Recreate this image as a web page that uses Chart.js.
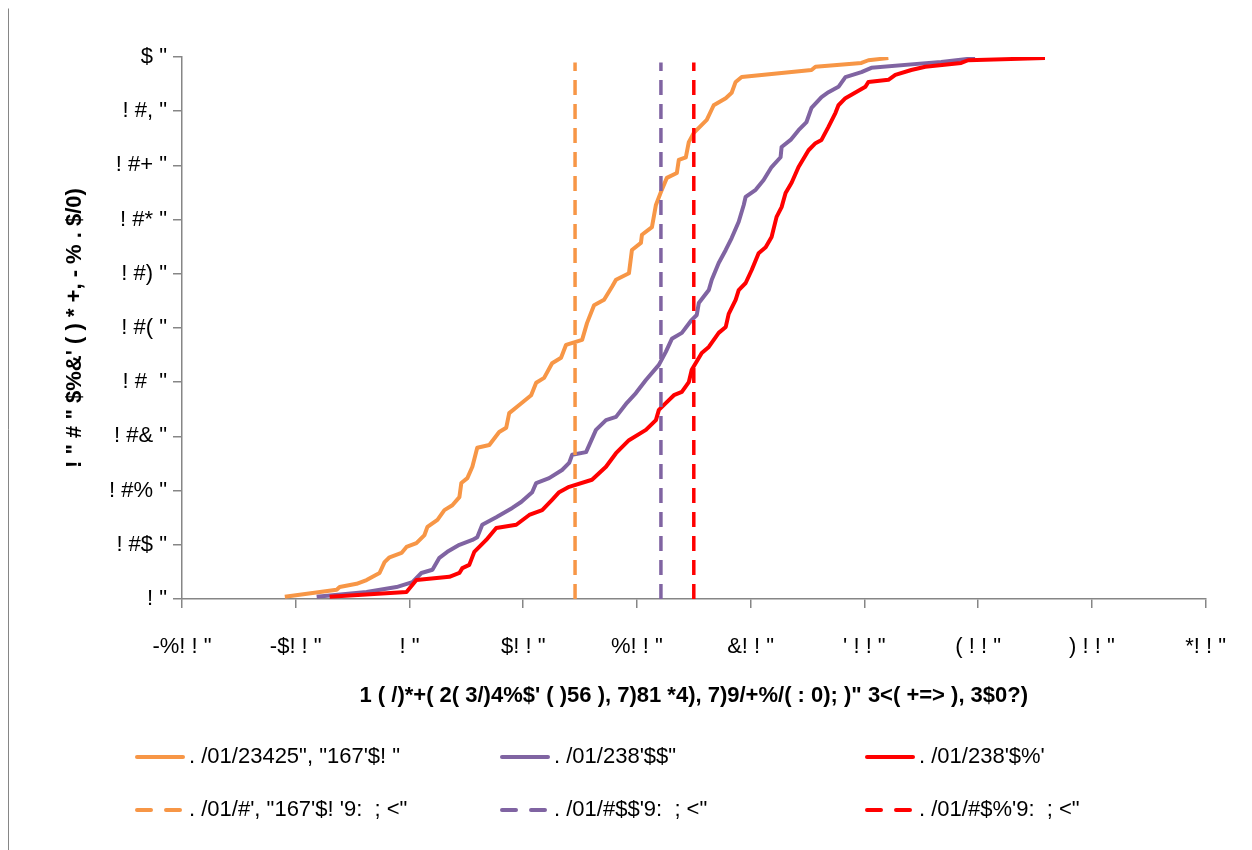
<!DOCTYPE html>
<html>
<head>
<meta charset="utf-8">
<script src="https://cdn.jsdelivr.net/npm/chart.js@4.4.1/dist/chart.umd.min.js"></script>
<style>
  html, body { margin: 0; padding: 0; background: #ffffff; }
  #wrap { position: absolute; left: 0; top: 0; width: 1252px; height: 850px; }
</style>
</head>
<body>
<div id="wrap"><canvas id="c" width="1252" height="850"></canvas></div>
<script>
// ---- tick labels (as shown) ----
const xTickLabels = ["-%! ! \"", "-$! ! \"", "! \"", "$! ! \"", "%! ! \"", "&! ! \"", "' ! ! \"", "( ! ! \"", ") ! ! \"", "*! ! \""];
const yTickLabels = ["! \"", "! #$ \"", "! #% \"", "! #& \"", "! #  \"", "! #( \"", "! #) \"", "! #* \"", "! #+ \"", "! #, \"", "$ \""];
const xTitle = "1 ( /)*+( 2( 3/)4%$' ( )56 ), 7)81 *4), 7)9/+%/( : 0); )\" 3<( +=> ), 3$0?)";
const yTitle = "! \" # \" $%&' ( ) * +, - % . $/0)";

// ---- series labels ----
const seriesLabels = [
  ". /01/23425\", \"167'$! \"",
  ". /01/238'$$\"",
  ". /01/238'$%'",
  ". /01/#', \"167'$! '9:  ; <\"",
  ". /01/#$$'9:  ; <\"",
  ". /01/#$%'9:  ; <\""
];

// ---- orange curve ----
const orangeX = [-109.6,-64.0,-61.4,-46.5,-37.7,-26.3,-21.9,-17.5,-7.0,-2.6,6.1,13.2,15.8,24.6,30.7,37.7,43.9,45.6,50.9,55.3,59.6,70.2,78.9,85.1,87.7,96.5,107.0,111.4,118.4,125.4,133.3,137.7,151.8,156.1,162.3,171.1,178.1,181.6,193.0,195.6,203.5,204.4,213.2,216.7,221.1,226.3,235.1,236.8,243.0,245.6,250.0,261.4,267.5,278.1,283.3,286.8,292.1,353.5,357.0,397.4,403.5,421.1];
const orangeY = [0.004,0.017,0.022,0.028,0.035,0.048,0.068,0.077,0.085,0.096,0.103,0.118,0.133,0.146,0.164,0.173,0.188,0.214,0.223,0.244,0.279,0.284,0.308,0.316,0.343,0.358,0.376,0.399,0.408,0.435,0.445,0.469,0.478,0.509,0.542,0.552,0.576,0.589,0.601,0.644,0.657,0.672,0.686,0.727,0.751,0.777,0.786,0.810,0.815,0.843,0.860,0.884,0.911,0.924,0.934,0.954,0.963,0.976,0.982,0.989,0.994,0.998];

// ---- purple curve ----
const purpleX = [-81.6,-37.7,-11.4,2.6,10.5,20.2,26.3,33.3,43.9,55.3,59.6,64.0,76.3,90.4,98.2,107.9,111.4,122.8,134.2,140.4,143.0,155.3,164.0,172.8,181.6,191.2,199.1,207.9,219.3,225.4,230.7,239.5,247.4,252.6,254.4,263.2,265.8,271.9,278.1,283.3,289.5,293.9,295.6,304.4,311.4,318.4,326.3,327.2,335.1,342.1,349.1,353.5,362.3,368.4,377.2,383.3,397.4,406.1,467.5,497.4];
const purpleY = [0.004,0.013,0.022,0.031,0.048,0.054,0.076,0.087,0.100,0.109,0.114,0.137,0.151,0.168,0.179,0.197,0.214,0.223,0.238,0.251,0.266,0.271,0.312,0.330,0.336,0.362,0.380,0.404,0.432,0.456,0.480,0.491,0.513,0.524,0.546,0.570,0.589,0.620,0.644,0.666,0.696,0.727,0.742,0.755,0.773,0.797,0.815,0.834,0.847,0.865,0.880,0.906,0.926,0.935,0.945,0.963,0.972,0.980,0.991,0.998];

// ---- red curve ----
const redX = [-70.2,-2.6,6.1,35.1,43.9,46.5,52.6,57.0,67.5,76.3,93.9,105.3,116.7,125.4,131.6,140.4,160.5,172.8,181.6,193.0,207.9,216.7,219.3,228.1,232.5,239.5,245.6,248.2,257.0,263.2,271.9,278.1,280.7,286.8,289.5,295.6,300.9,307.0,313.2,318.4,322.8,327.2,330.7,336.0,342.1,350.9,357.0,362.3,368.4,374.6,377.2,383.3,400.9,403.5,421.1,427.2,441.2,453.5,485.1,491.2,558.8];
const redY = [0.004,0.013,0.035,0.041,0.048,0.057,0.063,0.087,0.109,0.131,0.137,0.155,0.164,0.183,0.197,0.207,0.220,0.244,0.269,0.293,0.312,0.330,0.349,0.367,0.376,0.382,0.400,0.423,0.454,0.465,0.491,0.502,0.526,0.552,0.570,0.583,0.607,0.638,0.649,0.668,0.705,0.723,0.749,0.768,0.797,0.828,0.841,0.847,0.871,0.897,0.911,0.924,0.945,0.954,0.958,0.967,0.976,0.982,0.989,0.994,0.998];

// ---- vertical reference lines (x positions, y span) ----
const refX = [145.6, 221.1, 250.0];
const refY = [0, 0.99];

const colors = ["#F79646", "#8064A2", "#FF0000"];

function pts(xs, ys) { return xs.map((x, i) => ({ x: x, y: ys[i] })); }
function vline(x) { return refY.map(y => ({ x: x, y: y })); }

const FONT = "'Liberation Sans', Arial, sans-serif";
Chart.defaults.font.family = FONT;
Chart.defaults.color = "#000000";

const bgBorder = {
  id: 'bgBorder',
  beforeDraw(chart) {
    const ctx = chart.ctx;
    ctx.save();
    ctx.fillStyle = '#ffffff';
    ctx.fillRect(0, 0, chart.width, chart.height);
    ctx.strokeStyle = '#868686';
    ctx.lineWidth = 1;
    ctx.beginPath();
    ctx.moveTo(8.5, 8.5); ctx.lineTo(8.5, 850);
    ctx.stroke();
    ctx.restore();
  }
};

const customLegend = {
  id: 'customLegend',
  afterDraw(chart) {
    const ctx = chart.ctx;
    const colX = [135, 500, 865];
    const rowY = [757, 810];
    ctx.save();
    chart.data.datasets.forEach((ds, i) => {
      const c = i % 3, r = Math.floor(i / 3);
      const x0 = colX[c], y0 = rowY[r];
      ctx.strokeStyle = ds.borderColor;
      ctx.lineWidth = 4;
      ctx.lineCap = 'round';
      ctx.setLineDash(ds.borderDash && ds.borderDash.length ? [14, 15] : []);
      ctx.beginPath();
      ctx.moveTo(x0 + 2, y0); ctx.lineTo(x0 + 48, y0);
      ctx.stroke();
      ctx.setLineDash([]);
      ctx.fillStyle = '#000000';
      ctx.font = "22px " + FONT;
      ctx.textBaseline = 'middle';
      ctx.textAlign = 'left';
      ctx.fillText(ds.label, x0 + 54, y0);
    });
    ctx.restore();
  }
};

const datasets = [
  { label: seriesLabels[0], data: pts(orangeX, orangeY), borderColor: colors[0], borderWidth: 4, order: 5 },
  { label: seriesLabels[1], data: pts(purpleX, purpleY), borderColor: colors[1], borderWidth: 4, order: 4 },
  { label: seriesLabels[2], data: pts(redX, redY), borderColor: colors[2], borderWidth: 4, order: 3 },
  { label: seriesLabels[3], data: vline(refX[0]), borderColor: colors[0], borderWidth: 3.5, borderDash: [15, 9], order: 2 },
  { label: seriesLabels[4], data: vline(refX[1]), borderColor: colors[1], borderWidth: 3.5, borderDash: [15, 9], order: 1 },
  { label: seriesLabels[5], data: vline(refX[2]), borderColor: colors[2], borderWidth: 3.5, borderDash: [15, 9], order: 0 }
];
datasets.forEach(d => { d.pointRadius = 0; d.fill = false; d.tension = 0; d.backgroundColor = d.borderColor; d.borderJoinStyle = 'round'; });

new Chart(document.getElementById('c'), {
  type: 'line',
  data: { datasets: datasets },
  options: {
    responsive: false,
    animation: false,
    layout: { padding: { left: 0, right: 44, top: 57, bottom: 131 } },
    plugins: { legend: { display: false }, tooltip: { enabled: false } },
    scales: {
      x: {
        type: 'linear', min: -200, max: 700,
        afterFit(s) { s.height = 120; },
        ticks: { stepSize: 100, padding: 26, font: { size: 22 }, color: '#000',
          callback: (v, i) => xTickLabels[i] },
        grid: { drawOnChartArea: false, drawTicks: true, tickLength: 9, color: '#868686', lineWidth: 1.5 },
        border: { display: true, color: '#868686', width: 1.5 },
        title: { display: true, text: xTitle, font: { size: 22, weight: 'bold' }, color: '#000', padding: { top: 0, bottom: 10 } }
      },
      y: {
        type: 'linear', min: 0, max: 1,
        afterFit(s) { s.width = 182; },
        ticks: { stepSize: 0.1, padding: 6, font: { size: 22 }, color: '#000',
          callback: (v, i) => yTickLabels[i] },
        grid: { drawOnChartArea: false, drawTicks: true, tickLength: 9, color: '#868686', lineWidth: 1.5 },
        border: { display: true, color: '#868686', width: 1.5 },
        title: { display: true, text: yTitle, font: { size: 22, weight: 'bold' }, color: '#000', padding: { top: 62, bottom: 0 } }
      }
    }
  },
  plugins: [bgBorder, customLegend]
});
</script>
</body>
</html>
